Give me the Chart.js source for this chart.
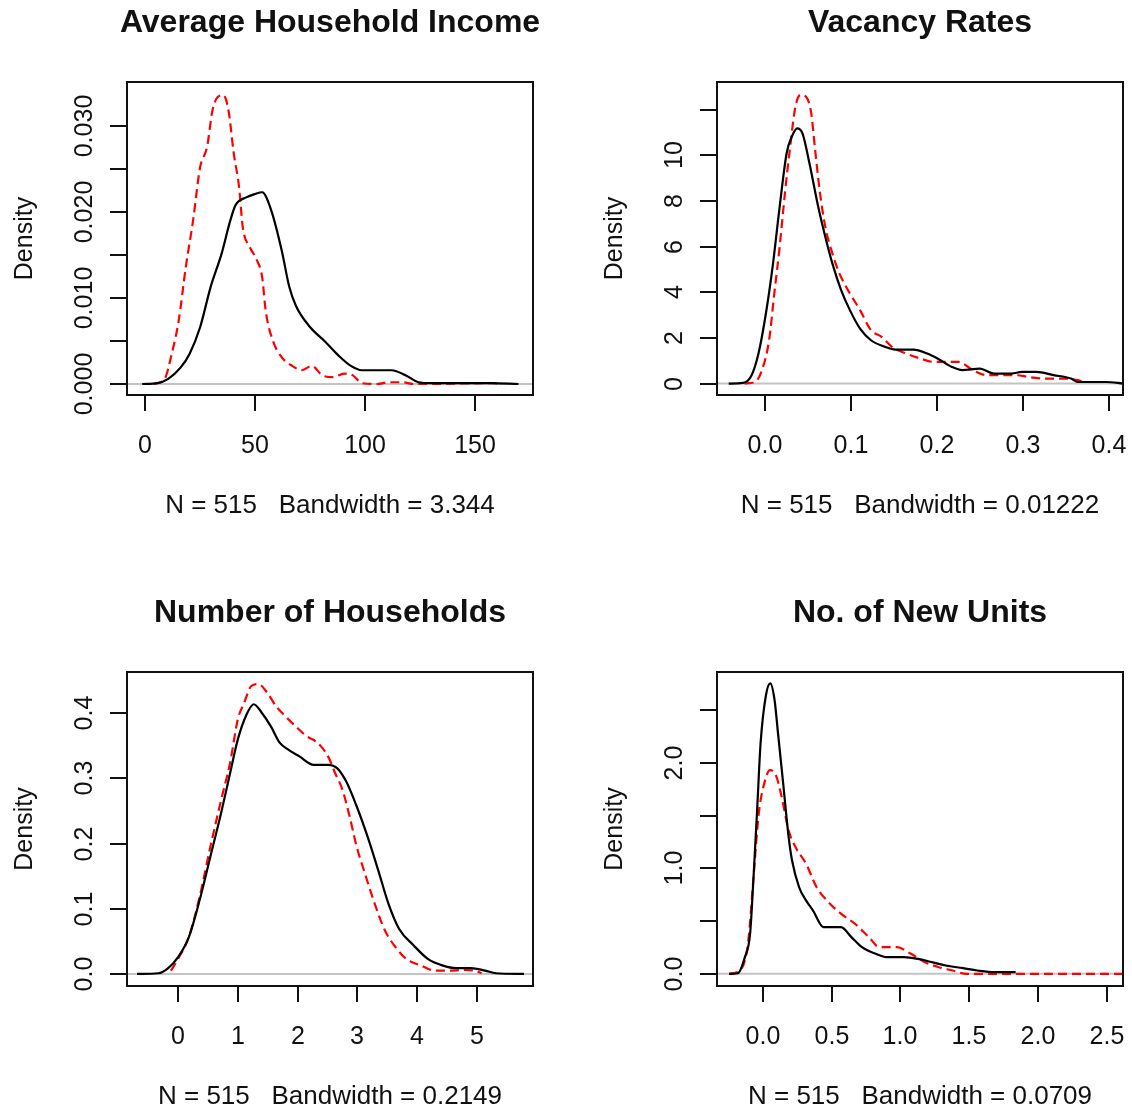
<!DOCTYPE html>
<html>
<head>
<meta charset="utf-8">
<script src="https://cdn.jsdelivr.net/npm/chart.js@4.4.1/dist/chart.umd.min.js"></script>
<style>
  body { margin: 0; background: #fff; }
  #wrap { position: relative; width: 1132px; height: 1111px; }
  #wrap canvas { position: absolute; left: 0; top: 0; }
</style>
</head>
<body>
<div id="wrap">
  <canvas id="inc" width="1132" height="1111"></canvas>
  <canvas id="vac" width="1132" height="1111"></canvas>
  <canvas id="hh" width="1132" height="1111"></canvas>
  <canvas id="units" width="1132" height="1111"></canvas>
</div>
<script>
// density estimates: black = full sample, red dashed = comparison
const incomeX1 = [-1.3, 5.6, 10.5, 16.1, 20.2, 25, 29.8, 34.7, 38.7, 41.1, 46, 50, 53.2, 57.3, 62.1, 65.5, 68.5, 75, 81.5, 87.9, 93.5, 98.4, 112, 118.5, 124.2, 129.8, 157, 169.6];
const incomeY1 = [0, 0.0001, 0.0006, 0.0019, 0.0035, 0.0066, 0.0113, 0.0151, 0.0190, 0.0208, 0.0217, 0.0221, 0.0223, 0.0202, 0.0155, 0.0113, 0.0091, 0.0066, 0.0050, 0.0033, 0.0021, 0.0016, 0.0016, 0.0010, 0.0002, 0.0001, 0.0001, 0];
const incomeX2 = [4, 8.9, 12.1, 15.3, 18.5, 21.8, 25, 28.2, 30.6, 33.1, 35.5, 37.9, 40.3, 42.7, 44.4, 47.6, 50.8, 53.2, 54.8, 58.1, 62.1, 66.9, 71, 75.8, 80.6, 85.5, 90.3, 94.4, 98.4, 105.6, 110.5, 117, 121.8, 128, 159, 160];
const incomeY2 = [0, 0.0006, 0.0035, 0.0074, 0.0136, 0.019, 0.0252, 0.0276, 0.0318, 0.0334, 0.0336, 0.0318, 0.0268, 0.0229, 0.0182, 0.0159, 0.0144, 0.0124, 0.0085, 0.0050, 0.0031, 0.0021, 0.0016, 0.0021, 0.0010, 0.0008, 0.0012, 0.0010, 0.0001, 0, 0.0002, 0.0002, 0, 0, 0.0001, 0];

const vacancyX1 = [-0.0416, -0.025, -0.015, -0.007, 0.001, 0.0094, 0.0176, 0.0257, 0.0318, 0.038, 0.0441, 0.0522, 0.0624, 0.0706, 0.0788, 0.089, 0.0992, 0.111, 0.1237, 0.14, 0.152, 0.173, 0.189, 0.201, 0.2176, 0.2298, 0.25, 0.2665, 0.287, 0.299, 0.3155, 0.336, 0.356, 0.364, 0.397, 0.417];
const vacancyY1 = [0, 0.03, 0.37, 1.32, 2.93, 5.12, 7.75, 10.1, 10.83, 11.19, 10.97, 9.66, 7.75, 6.44, 5.27, 4.10, 3.22, 2.41, 1.90, 1.61, 1.49, 1.49, 1.32, 1.10, 0.73, 0.59, 0.66, 0.44, 0.44, 0.51, 0.51, 0.37, 0.22, 0.07, 0.07, 0];
const vacancyX2 = [-0.023, -0.011, -0.003, 0.0053, 0.0114, 0.0176, 0.0237, 0.0298, 0.0359, 0.042, 0.048, 0.0543, 0.0584, 0.0645, 0.0706, 0.0788, 0.087, 0.0992, 0.111, 0.1237, 0.136, 0.148, 0.1645, 0.181, 0.197, 0.209, 0.2257, 0.242, 0.258, 0.275, 0.291, 0.307, 0.3237, 0.348, 0.364, 0.3727];
const vacancyY2 = [0, 0.07, 0.59, 1.90, 3.95, 6.0, 8.34, 10.39, 12.14, 12.66, 12.58, 11.85, 10.39, 8.34, 6.88, 5.71, 4.83, 3.95, 3.22, 2.34, 2.05, 1.61, 1.32, 1.10, 0.95, 0.95, 0.95, 0.59, 0.37, 0.37, 0.37, 0.29, 0.22, 0.22, 0.15, 0.03];

const hhX1 = [-0.687, -0.33, -0.18, 0, 0.18, 0.36, 0.54, 0.72, 0.87, 1.0, 1.135, 1.266, 1.4, 1.553, 1.70, 1.85, 2.03, 2.27, 2.51, 2.66, 2.81, 2.99, 3.17, 3.35, 3.52, 3.70, 3.94, 4.18, 4.42, 4.66, 4.90, 5.14, 5.32, 5.79];
const hhY1 = [0, 0.001, 0.0077, 0.0257, 0.0566, 0.113, 0.18, 0.247, 0.308, 0.36, 0.396, 0.414, 0.401, 0.38, 0.355, 0.344, 0.334, 0.321, 0.321, 0.316, 0.296, 0.257, 0.211, 0.159, 0.108, 0.069, 0.044, 0.023, 0.013, 0.0087, 0.0087, 0.005, 0.001, 0];
const hhX2 = [-0.12, 0, 0.18, 0.36, 0.54, 0.72, 0.87, 1.0, 1.105, 1.225, 1.344, 1.49, 1.64, 1.79, 1.97, 2.15, 2.33, 2.51, 2.63, 2.75, 2.87, 2.99, 3.11, 3.29, 3.46, 3.64, 3.82, 4.06, 4.30, 4.54, 4.78, 4.96, 5.08];
const hhY2 = [0.005, 0.023, 0.0566, 0.118, 0.195, 0.267, 0.324, 0.391, 0.416, 0.442, 0.445, 0.432, 0.411, 0.396, 0.38, 0.365, 0.355, 0.334, 0.308, 0.283, 0.242, 0.195, 0.159, 0.108, 0.067, 0.041, 0.023, 0.013, 0.005, 0.005, 0.006, 0.005, 0.001];

const unitsX1 = [-0.247, -0.183, -0.132, -0.094, -0.069, -0.043, -0.018, 0.02, 0.053, 0.084, 0.109, 0.147, 0.186, 0.211, 0.262, 0.313, 0.364, 0.44, 0.491, 0.567, 0.643, 0.72, 0.821, 0.898, 1.025, 1.127, 1.228, 1.33, 1.457, 1.56, 1.686, 1.839];
const unitsY1 = [0, 0.006, 0.158, 0.38, 0.92, 1.55, 2.18, 2.63, 2.753, 2.595, 2.28, 1.80, 1.30, 1.076, 0.823, 0.696, 0.60, 0.443, 0.443, 0.443, 0.348, 0.253, 0.19, 0.158, 0.158, 0.142, 0.111, 0.079, 0.054, 0.032, 0.016, 0.016];
const unitsX2 = [-0.247, -0.158, -0.107, -0.069, -0.031, 0.008, 0.051, 0.097, 0.135, 0.186, 0.237, 0.313, 0.389, 0.465, 0.567, 0.669, 0.77, 0.847, 0.974, 1.076, 1.178, 1.28, 1.38, 1.483, 1.99, 2.62];
const unitsY2 = [0, 0.047, 0.316, 0.92, 1.52, 1.80, 1.93, 1.87, 1.68, 1.36, 1.20, 1.044, 0.823, 0.696, 0.57, 0.475, 0.348, 0.253, 0.253, 0.19, 0.111, 0.063, 0.032, 0, 0, 0];

// axis ticks and their labels ('' = tick only)
const incomeXTicks = [0, 50, 100, 150];
const incomeYTicks = [0, 0.005, 0.01, 0.015, 0.02, 0.025, 0.03];
const incomeYLabels = ['0.000', '', '0.010', '', '0.020', '', '0.030'];
const vacancyXTicks = [0, 0.1, 0.2, 0.3, 0.4];
const vacancyXLabels = ['0.0', '0.1', '0.2', '0.3', '0.4'];
const vacancyYTicks = [0, 2, 4, 6, 8, 10, 12];
const vacancyYLabels = ['0', '2', '4', '6', '8', '10', ''];
const hhXTicks = [0, 1, 2, 3, 4, 5];
const hhYTicks = [0, 0.1, 0.2, 0.3, 0.4];
const hhYLabels = ['0.0', '0.1', '0.2', '0.3', '0.4'];
const unitsXTicks = [0, 0.5, 1, 1.5, 2, 2.5];
const unitsXLabels = ['0.0', '0.5', '1.0', '1.5', '2.0', '2.5'];
const unitsYTicks = [0, 0.5, 1, 1.5, 2, 2.5];
const unitsYLabels = ['0.0', '', '1.0', '', '2.0', ''];

const FONT = '"Liberation Sans", Arial, Helvetica, sans-serif';
const W = 1132, H = 1111;

const pts = (xs, ys) => xs.map((x, i) => ({x: x, y: ys[i]}));

// base-graphics style frame: box, outward ticks, rotated y labels, titles
const frame = {
  id: 'frame',
  beforeDatasetsDraw(chart) {
    const {ctx, chartArea: a, scales} = chart;
    const y0 = scales.y.getPixelForValue(0);
    ctx.save();
    ctx.strokeStyle = '#c4c4c4';
    ctx.lineWidth = 2;
    ctx.beginPath();
    ctx.moveTo(a.left, y0);
    ctx.lineTo(a.right, y0);
    ctx.stroke();
    ctx.restore();
  },
  afterDraw(chart, args, o) {
    const {ctx, chartArea: a, scales} = chart;
    ctx.save();
    ctx.strokeStyle = '#111';
    ctx.fillStyle = '#111';
    ctx.lineWidth = 2;
    ctx.strokeRect(a.left, a.top, a.right - a.left, a.bottom - a.top);

    ctx.font = '25px ' + FONT;
    ctx.textAlign = 'center';
    ctx.textBaseline = 'middle';
    o.xTicks.forEach((v, i) => {
      const px = Math.round(scales.x.getPixelForValue(v));
      ctx.beginPath();
      ctx.moveTo(px, a.bottom);
      ctx.lineTo(px, a.bottom + 16);
      ctx.stroke();
      ctx.fillText(o.xLabels[i], px, a.bottom + 51);
    });
    o.yTicks.forEach((v, i) => {
      const py = Math.round(scales.y.getPixelForValue(v));
      ctx.beginPath();
      ctx.moveTo(a.left, py);
      ctx.lineTo(a.left - 17, py);
      ctx.stroke();
      if (o.yLabels[i]) {
        ctx.save();
        ctx.translate(a.left - 42, py);
        ctx.rotate(-Math.PI / 2);
        ctx.fillText(o.yLabels[i], 0, 0);
        ctx.restore();
      }
    });

    const cx = (a.left + a.right) / 2;
    ctx.save();
    ctx.translate(a.left - 102, (a.top + a.bottom) / 2);
    ctx.rotate(-Math.PI / 2);
    ctx.fillText('Density', 0, 0);
    ctx.restore();
    ctx.font = '26px ' + FONT;
    ctx.fillText(o.sub, cx, a.bottom + 111);

    ctx.font = 'bold 32px ' + FONT;
    ctx.fillText(o.title, cx, a.top - 59);
    ctx.restore();
  }
};

function densityChart(id, box, xr, yr, x1, y1, x2, y2, frameOpts) {
  new Chart(document.getElementById(id), {
    type: 'line',
    data: {
      datasets: [
        {data: pts(x1, y1), borderColor: '#000', borderWidth: 2.2},
        {data: pts(x2, y2), borderColor: '#ff0000', borderWidth: 2.2, borderDash: [9, 5]}
      ]
    },
    options: {
      responsive: false,
      animation: false,
      events: [],
      elements: {
        point: {radius: 0},
        line: {cubicInterpolationMode: 'monotone', fill: false}
      },
      layout: {padding: {left: box[0], top: box[1], right: W - box[2], bottom: H - box[3]}},
      scales: {
        x: {type: 'linear', min: xr[0], max: xr[1], display: false},
        y: {type: 'linear', min: yr[0], max: yr[1], display: false}
      },
      plugins: {
        legend: {display: false},
        tooltip: {enabled: false},
        frame: frameOpts
      }
    },
    plugins: [frame]
  });
}

densityChart('inc', [127, 82, 533, 395], [-8.2, 176.2], [-0.00128, 0.03512],
  incomeX1, incomeY1, incomeX2, incomeY2,
  {title: 'Average Household Income', sub: 'N = 515   Bandwidth = 3.344',
   xTicks: incomeXTicks, xLabels: incomeXTicks.map(String), yTicks: incomeYTicks, yLabels: incomeYLabels});

densityChart('vac', [717, 82, 1123, 395], [-0.0552, 0.4165], [-0.5, 13.22],
  vacancyX1, vacancyY1, vacancyX2, vacancyY2,
  {title: 'Vacancy Rates', sub: 'N = 515   Bandwidth = 0.01222',
   xTicks: vacancyXTicks, xLabels: vacancyXLabels, yTicks: vacancyYTicks, yLabels: vacancyYLabels});

densityChart('hh', [127, 672, 533, 986], [-0.855, 5.94], [-0.0186, 0.4635],
  hhX1, hhY1, hhX2, hhY2,
  {title: 'Number of Households', sub: 'N = 515   Bandwidth = 0.2149',
   xTicks: hhXTicks, xLabels: hhXTicks.map(String), yTicks: hhYTicks, yLabels: hhYLabels});

densityChart('units', [717, 672, 1123, 986], [-0.335, 2.62], [-0.115, 2.86],
  unitsX1, unitsY1, unitsX2, unitsY2,
  {title: 'No. of New Units', sub: 'N = 515   Bandwidth = 0.0709',
   xTicks: unitsXTicks, xLabels: unitsXLabels, yTicks: unitsYTicks, yLabels: unitsYLabels});
</script>
</body>
</html>
